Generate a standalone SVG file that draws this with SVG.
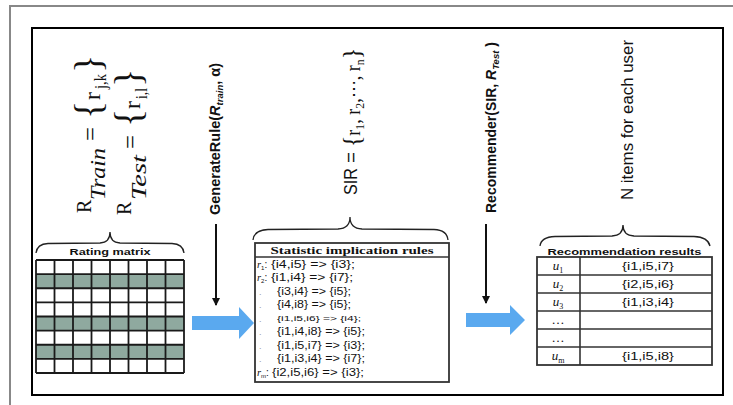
<svg xmlns="http://www.w3.org/2000/svg" width="733" height="405" viewBox="0 0 733 405">
<defs>
<style>
.outer{fill:none;stroke:#888;stroke-width:2}
.frame{fill:none;stroke:#000;stroke-width:2}
.brace{fill:none;stroke:#222;stroke-width:1.3}
.box{fill:#fff;stroke:#333;stroke-width:1.8}
.sep{stroke:#333;stroke-width:1.6}
.gray{fill:#8fa99f}
.grid{stroke:#1a1a1a;stroke-width:1.8}
.hdr{font-family:"Liberation Serif","Times New Roman",serif;font-weight:bold;font-size:10.5px;fill:#111}
.rule{font-family:"Liberation Sans",Arial,sans-serif;font-size:10px;fill:#111}
.dot{font-family:"Liberation Sans",Arial,sans-serif;font-size:9px;fill:#999}
.math{font-family:"Liberation Serif","Times New Roman",serif;fill:#111}
.lbl{font-family:"Liberation Sans",Arial,sans-serif;fill:#111}
.blue{fill:#5aa9ef}
.conn{stroke:#111;stroke-width:2;fill:none}
</style>
<marker id="ah" markerWidth="8" markerHeight="8" refX="7" refY="4" orient="auto" markerUnits="userSpaceOnUse">
<path d="M0,0 L8,4 L0,8 Z" fill="#111"/>
</marker>
</defs>
<rect width="733" height="405" fill="#fff"/>
<g id="border">
<path class="outer" d="M10,405 L10,6 L733,6"/>
<rect class="frame" x="32" y="28" width="691" height="367"/>
</g>

<g id="formula-left">
<g class="math">
<text transform="translate(91,213) rotate(-90)" font-size="20">R</text>
<text transform="translate(105,200) rotate(-90)" font-size="21" font-style="italic" textLength="52" lengthAdjust="spacingAndGlyphs">Train</text>
<text transform="translate(99,141) rotate(-90)" font-size="26" textLength="14" lengthAdjust="spacingAndGlyphs">=</text>
<text transform="translate(101,119) rotate(-90)" font-size="38">{</text>
<text transform="translate(100,100) rotate(-90)" font-size="24">r</text>
<text transform="translate(106,89) rotate(-90)" font-size="16" textLength="15" lengthAdjust="spacingAndGlyphs">j,k</text>
<text transform="translate(101,73) rotate(-90)" font-size="38">}</text>

<text transform="translate(131,215) rotate(-90)" font-size="20">R</text>
<text transform="translate(146,200) rotate(-90)" font-size="21" font-style="italic" textLength="45" lengthAdjust="spacingAndGlyphs">Test</text>
<text transform="translate(139,149) rotate(-90)" font-size="26" textLength="14" lengthAdjust="spacingAndGlyphs">=</text>
<text transform="translate(141,127) rotate(-90)" font-size="38">{</text>
<text transform="translate(140,109) rotate(-90)" font-size="24">r</text>
<text transform="translate(147,99) rotate(-90)" font-size="16" textLength="11" lengthAdjust="spacingAndGlyphs">i,l</text>
<text transform="translate(141,87) rotate(-90)" font-size="38">}</text>
</g>
</g>

<g id="label-generate">
<text class="lbl" transform="translate(220,215) rotate(-90)" font-size="14.5" font-weight="bold">GenerateRule(<tspan font-style="italic">R</tspan><tspan font-style="italic" font-size="9.5" dy="3">train</tspan><tspan dy="-3">, α)</tspan></text>
</g>

<g id="label-sir">
<text class="lbl" transform="translate(357,195) rotate(-90)" font-size="18" textLength="27" lengthAdjust="spacingAndGlyphs">SIR</text>
<text class="lbl" transform="translate(357,163) rotate(-90)" font-size="18" textLength="11" lengthAdjust="spacingAndGlyphs">=</text>
<text class="math" transform="translate(360,147) rotate(-90)" font-size="20" textLength="99" lengthAdjust="spacingAndGlyphs"><tspan font-size="26">{</tspan>r<tspan font-size="13" dy="4">1</tspan><tspan dy="-4">, r</tspan><tspan font-size="13" dy="4">2</tspan><tspan dy="-4">,⋯, r</tspan><tspan font-size="13" dy="4">n</tspan><tspan font-size="26" dy="-4">}</tspan></text>
</g>

<g id="label-recommender">
<text class="lbl" transform="translate(496,213) rotate(-90)" font-size="14" font-weight="bold">Recommender(SIR, <tspan font-style="italic">R</tspan><tspan font-style="italic" font-size="9.5" dy="3">Test</tspan><tspan dy="-3"> )</tspan></text>
</g>

<g id="label-nitems">
<text class="lbl" transform="translate(633,200) rotate(-90)" font-size="17" textLength="160" lengthAdjust="spacingAndGlyphs">N items for each user</text>
</g>

<g id="braces">
<path class="brace" d="M36,253 Q37,244 48,243.5 L100,243 Q110,242.5 110,232 Q110,242.5 120,243 L172,243.5 Q183,244 184,253"/>
<path class="brace" d="M253,240 Q254,230 268,229.5 L338,229 Q350,228.5 350,217 Q350,228.5 362,229 L434,229.5 Q447,230 448,240"/>
<path class="brace" d="M540,246 Q541,237 555,236.5 L612,236 Q623,235.5 623,225 Q623,235.5 634,236 L694,236.5 Q708,237 710,246"/>
</g>

<g id="rating-matrix">
<text class="lbl" x="110" y="255" font-size="9" font-weight="bold" text-anchor="middle" textLength="81" lengthAdjust="spacingAndGlyphs">Rating matrix</text>
<rect x="36" y="260" width="148" height="113" fill="#fff"/>
<rect class="gray" x="36" y="274.1" width="148" height="14.15"/>
<rect class="gray" x="36" y="316.5" width="148" height="14.1"/>
<rect class="gray" x="36" y="344.75" width="148" height="14.15"/>
<g class="grid">
<line x1="36" y1="260" x2="36" y2="373"/><line x1="54.5" y1="260" x2="54.5" y2="373"/><line x1="73" y1="260" x2="73" y2="373"/><line x1="91.5" y1="260" x2="91.5" y2="373"/><line x1="110" y1="260" x2="110" y2="373"/><line x1="128.5" y1="260" x2="128.5" y2="373"/><line x1="147" y1="260" x2="147" y2="373"/><line x1="165.5" y1="260" x2="165.5" y2="373"/><line x1="184" y1="260" x2="184" y2="373"/>
<line x1="36" y1="260" x2="184" y2="260"/><line x1="36" y1="274.1" x2="184" y2="274.1"/><line x1="36" y1="288.25" x2="184" y2="288.25"/><line x1="36" y1="302.4" x2="184" y2="302.4"/><line x1="36" y1="316.5" x2="184" y2="316.5"/><line x1="36" y1="330.6" x2="184" y2="330.6"/><line x1="36" y1="344.75" x2="184" y2="344.75"/><line x1="36" y1="358.9" x2="184" y2="358.9"/><line x1="36" y1="373" x2="184" y2="373"/>
</g>
</g>

<g id="sir-box">
<rect class="box" x="255" y="243" width="194" height="139"/>
<line class="sep" x1="255" y1="257" x2="449" y2="257"/>
<text class="hdr" x="352" y="254" text-anchor="middle" textLength="163" lengthAdjust="spacingAndGlyphs">Statistic implication  rules</text>
<g class="rule">
<text x="257" y="267.5"><tspan class="math" font-style="italic" font-size="10.5">r</tspan><tspan font-size="6" dy="2">1</tspan><tspan dy="-2">:</tspan></text>
<text x="271" y="267.5" textLength="84" lengthAdjust="spacingAndGlyphs">{i4,i5} =&gt; {i3};</text>
<text x="257" y="281"><tspan class="math" font-style="italic" font-size="10.5">r</tspan><tspan font-size="6" dy="2">2</tspan><tspan dy="-2">:</tspan></text>
<text x="271" y="281" textLength="82" lengthAdjust="spacingAndGlyphs">{i1,i4} =&gt; {i7};</text>
<text class="dot" x="259" y="294.5">.</text>
<text x="277" y="294.5" textLength="74" lengthAdjust="spacingAndGlyphs">{i3,i4} =&gt; {i5};</text>
<text class="dot" x="259" y="308">.</text>
<text x="277" y="308" textLength="74" lengthAdjust="spacingAndGlyphs">{i4,i8} =&gt; {i5};</text>
<text class="dot" x="259" y="321.5">.</text>
<text x="277" y="321" font-size="7.5" textLength="84" lengthAdjust="spacingAndGlyphs">{i1,i5,i6} =&gt; {i4};</text>
<text class="dot" x="259" y="335">.</text>
<text x="277" y="335" textLength="88" lengthAdjust="spacingAndGlyphs">{i1,i4,i8} =&gt; {i5};</text>
<text class="dot" x="259" y="348.5">.</text>
<text x="277" y="348.5" textLength="88" lengthAdjust="spacingAndGlyphs">{i1,i5,i7} =&gt; {i3};</text>
<text class="dot" x="259" y="362">.</text>
<text x="277" y="362" textLength="88" lengthAdjust="spacingAndGlyphs">{i1,i3,i4} =&gt; {i7};</text>
<text x="257" y="375.5"><tspan class="math" font-style="italic" font-size="10.5">r</tspan><tspan font-size="6" dy="2">m</tspan><tspan dy="-2">:</tspan></text>
<text x="272" y="375.5" textLength="92" lengthAdjust="spacingAndGlyphs">{i2,i5,i6} =&gt; {i3};</text>
</g>
</g>

<g id="results-table">
<text class="lbl" x="624.5" y="255" font-size="9" font-weight="bold" text-anchor="middle" textLength="154" lengthAdjust="spacingAndGlyphs">Recommendation results</text>
<rect class="box" x="537" y="257" width="175" height="108"/>
<g class="sep">
<line x1="537" y1="275" x2="712" y2="275"/><line x1="537" y1="293" x2="712" y2="293"/><line x1="537" y1="311" x2="712" y2="311"/><line x1="537" y1="329" x2="712" y2="329"/><line x1="537" y1="347" x2="712" y2="347"/>
<line x1="580" y1="257" x2="580" y2="365"/>
</g>
<g class="math" font-size="13" text-anchor="middle">
<text x="558" y="270"><tspan font-style="italic">u</tspan><tspan font-size="8" dy="3">1</tspan></text>
<text x="558" y="288"><tspan font-style="italic">u</tspan><tspan font-size="8" dy="3">2</tspan></text>
<text x="558" y="306"><tspan font-style="italic">u</tspan><tspan font-size="8" dy="3">3</tspan></text>
<text x="558" y="324">…</text>
<text x="558" y="342">…</text>
<text x="558" y="360"><tspan font-style="italic">u</tspan><tspan font-size="8" dy="3">m</tspan></text>
</g>
<g class="rule" text-anchor="middle">
<text x="648" y="269.5" textLength="52" lengthAdjust="spacingAndGlyphs">{i1,i5,i7}</text>
<text x="648" y="287.5" textLength="52" lengthAdjust="spacingAndGlyphs">{i2,i5,i6}</text>
<text x="648" y="305.5" textLength="52" lengthAdjust="spacingAndGlyphs">{i1,i3,i4}</text>
<text x="648" y="359.5" textLength="52" lengthAdjust="spacingAndGlyphs">{i1,i5,i8}</text>
</g>
</g>

<g id="connectors">
<line class="conn" x1="216" y1="224" x2="216" y2="305" marker-end="url(#ah)"/>
<line class="conn" x1="486" y1="224" x2="486" y2="303" marker-end="url(#ah)"/>
<path class="blue" d="M192,316 L239,316 L239,307 L254,323 L239,339 L239,330 L192,330 Z"/>
<path class="blue" d="M466,313 L510,313 L510,305 L525,320 L510,335 L510,327 L466,327 Z"/>
</g>
</svg>
